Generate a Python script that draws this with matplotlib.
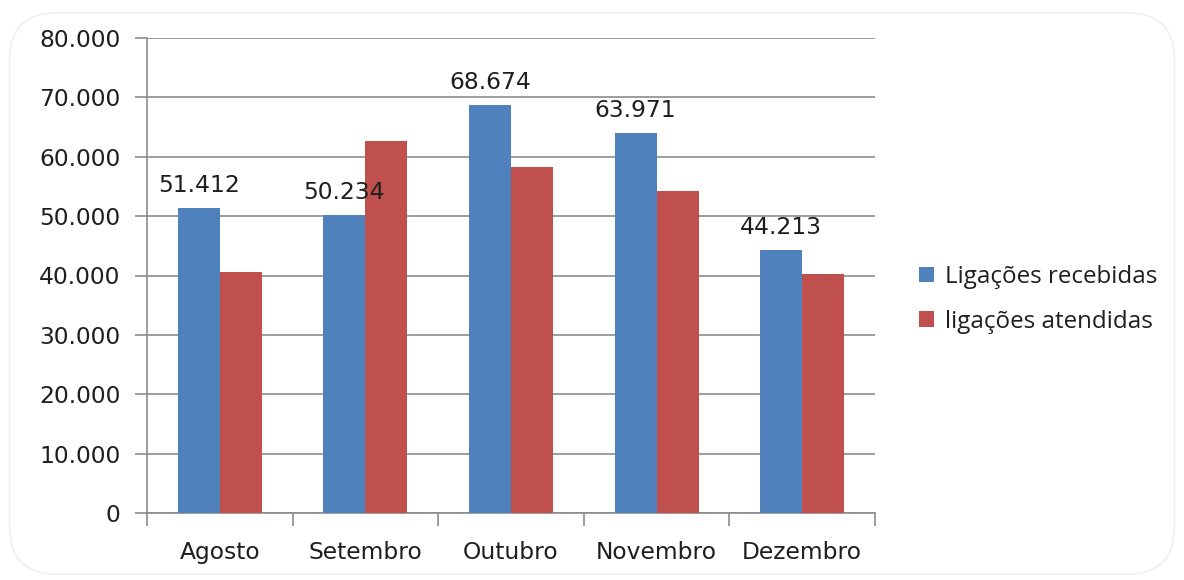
import matplotlib
matplotlib.use("Agg")
import matplotlib.pyplot as plt
import numpy as np
from matplotlib.patches import FancyBboxPatch

months = ["Agosto", "Setembro", "Outubro", "Novembro", "Dezembro"]
recebidas = [51412, 50234, 68674, 63971, 44213]
atendidas = [40600, 62600, 58200, 54200, 40200]
series_names = ["Ligações recebidas", "ligações atendidas"]
yticks = [0, 10000, 20000, 30000, 40000, 50000, 60000, 70000, 80000]

blue = "#4F81BD"
red = "#C0504D"
grid_c = "#8C8C8C"
txt_c = "#1E1E1E"

def fmt(v):
    return f"{v:,.0f}".replace(",", ".")

fig = plt.figure(figsize=(11.84, 5.8), dpi=100)
fig.patch.set_facecolor("white")

# rounded frame
frame = FancyBboxPatch((0.008, 0.01), 0.984, 0.968, boxstyle="round,pad=0,rounding_size=0.04",
                       transform=fig.transFigure, facecolor="white", edgecolor="#EFEFEF",
                       linewidth=1.2, mutation_aspect=1184/580, zorder=-5)
fig.patches.append(frame)

ax = fig.add_axes([147/1184, 1 - 513/580, (875 - 147)/1184, (513 - 38)/580])
ax.set_facecolor("none")
ax.set_zorder(2)

x = np.arange(len(months))
w = 0.289
ax.bar(x - w/2, recebidas, width=w, color=blue, label=series_names[0], zorder=3)
ax.bar(x + w/2, atendidas, width=w, color=red, label=series_names[1], zorder=3)

for xi, v in zip(x, recebidas):
    ax.annotate(fmt(v), (xi - w/2, v), xytext=(0, 8), textcoords="offset points",
                ha="center", va="bottom", fontsize=16.8, color=txt_c, family="DejaVu Sans")

ax.set_xlim(-0.5, len(months) - 0.5)
ax.set_ylim(0, 80000)
ax.set_yticks(yticks)
ax.set_yticklabels([fmt(v) for v in yticks], fontsize=16.8, color=txt_c)
ax.set_xticks(x)
ax.set_xticklabels(months, fontsize=16.8, color=txt_c)
ax.set_xticks(np.arange(-0.5, len(months)), minor=True)
ax.tick_params(axis="x", which="major", length=0, pad=20)
ax.tick_params(axis="x", which="minor", length=9, color=grid_c, width=1.2, direction="out")
ax.tick_params(axis="y", length=9, color=grid_c, width=1.2, direction="out", pad=10)

ax.yaxis.grid(True, color=grid_c, linewidth=1.2, zorder=0)
ax.set_axisbelow(True)
for s in ["top", "right"]:
    ax.spines[s].set_visible(False)
for s in ["left", "bottom"]:
    ax.spines[s].set_color(grid_c)
    ax.spines[s].set_linewidth(1.2)

leg = fig.legend(loc="center left", bbox_to_anchor=(0.758, 0.484), frameon=False,
                 prop={"family": "Open Sans", "size": 17.4}, handlelength=0.6, handleheight=0.6,
                 handletextpad=0.45, labelspacing=0.85)
for t in leg.get_texts():
    t.set_color(txt_c)

fig.savefig("out.png", dpi=100, facecolor="white")
